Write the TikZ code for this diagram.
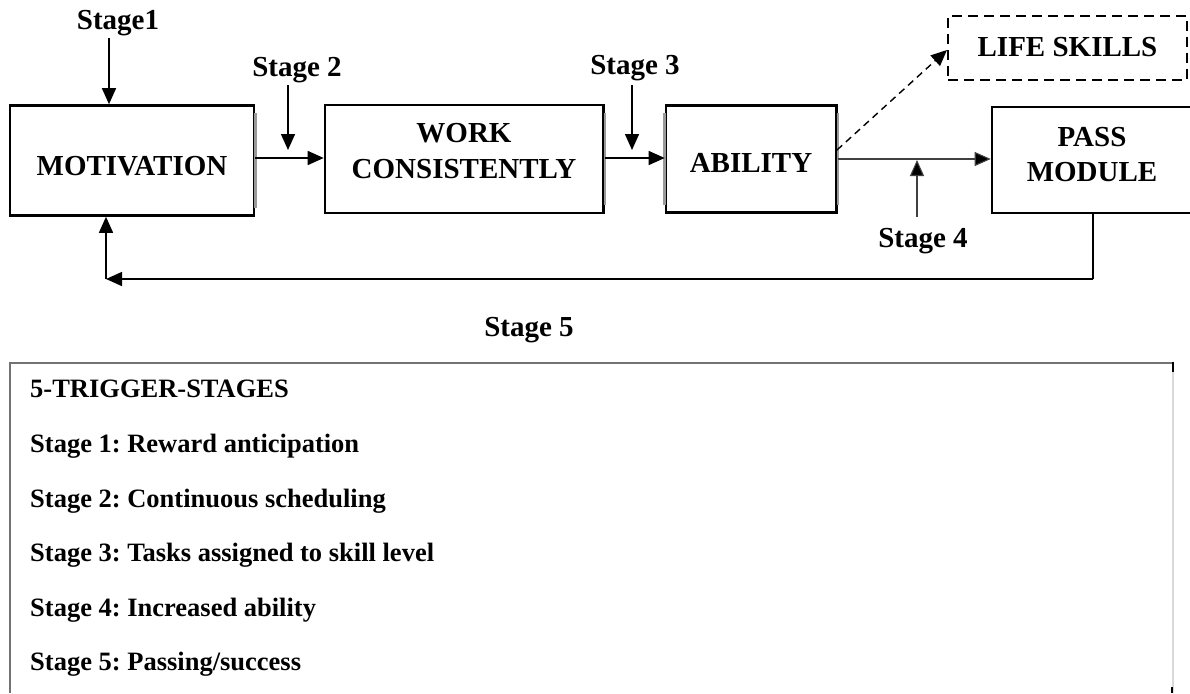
\documentclass[tikz,border=0pt]{standalone}
\usepackage{fontspec}
\setmainfont{Liberation Serif}
\usetikzlibrary{arrows.meta}
\frenchspacing
\begin{document}
\begin{tikzpicture}[x=1pt,y=-1pt,
  box/.style={draw,line width=2.6pt,inner sep=0pt},
  dbox/.style={box,dash pattern=on 10pt off 6pt},
  lbl/.style={font=\fontsize{29}{35}\selectfont\bfseries,inner sep=0pt,text height=19pt,text depth=0pt},
  itm/.style={font=\fontsize{26.5}{32}\selectfont\bfseries,inner sep=0pt,text height=17.5pt,text depth=0pt,anchor=west},
  arr/.style={line width=1.5pt,-{Triangle[length=16pt,width=14pt]}},
  thinarr/.style={line width=1.1pt,black!75,-{Triangle[length=16pt,width=14pt,fill=black]}},
  dasharr/.style={line width=1.4pt,dash pattern=on 7pt off 5pt,-{Triangle[length=16pt,width=14pt]}},
  plain/.style={line width=1.5pt},
  soft/.style={line width=2.6pt,black!40},
]
\useasboundingbox (0,0) rectangle (1190,693);
% boxes
\node[box,minimum width=244pt,minimum height=110pt] (mot) at (132,160.5) {};
\node[box,minimum width=278.6pt,minimum height=108pt] (work) at (464.3,159) {};
\node[box,minimum width=170.7pt,minimum height=107pt] (abil) at (751.3,159) {};
\node[box,minimum width=208pt,minimum height=106pt] (pass) at (1096,160) {};
\node[dbox,minimum width=239pt,minimum height=64pt] (life) at (1067.5,48) {};
% softer vertical edges
\draw[soft] ([yshift=-9pt]mot.north east) -- ([yshift=9pt]mot.south east);
\draw[soft] ([yshift=-9pt]work.north east) -- ([yshift=9pt]work.south east);
\draw[soft] ([yshift=-9pt]abil.north east) -- ([yshift=9pt]abil.south east);
\draw[soft] ([yshift=-9pt]abil.north west) -- ([yshift=9pt]abil.south west);
% box texts
\node[lbl] (motT) at (132,166) {MOTIVATION};
\node[lbl] (workT1) at (464,132.6) {WORK};
\node[lbl] (workT2) at (464,169) {CONSISTENTLY};
\node[lbl] (abilT) at (751,163) {ABILITY};
\node[lbl] (passT1) at (1092,137) {PASS};
\node[lbl] (passT2) at (1092,172) {MODULE};
\node[lbl] (lifeT) at (1067.5,46.7) {LIFE SKILLS};
% stage labels
\node[lbl] (s1) at (118,20) {Stage1};
\node[lbl] (s2) at (297,67) {Stage 2};
\node[lbl] (s3) at (635,65) {Stage 3};
\node[lbl] (s4) at (923,238) {Stage 4};
\node[lbl] (s5) at (529,327) {Stage 5};
% helper coordinates
\coordinate (a1) at (109,38);
\coordinate (a2t) at (288,85);
\coordinate (a2b) at (288,150);
\coordinate (a3t) at (632,85);
\coordinate (a3b) at (632,150);
\coordinate (a4b) at (917,216.7);
\coordinate (a4t) at (917,160);
\coordinate (ds) at (837,150);
\coordinate (de) at (947,50);
\coordinate (fb1) at (1093,279);
\coordinate (fb2) at (106,279);
% connectors
\draw[arr] (a1) -- (a1 |- mot.north);
\draw[arr] (a2t) -- (a2b);
\draw[arr] (a3t) -- (a3b);
\draw[arr] (mot.east |- 0,158) -- (work.west |- 0,158);
\draw[arr] (work.east |- 0,158) -- (abil.west |- 0,158);
\draw[thinarr] (abil.east |- 0,159) -- (pass.west |- 0,159);
\draw[thinarr] (a4b) -- (a4t);
\draw[dasharr] (ds) -- (de);
\draw[plain] (fb1 |- pass.south) -- (fb1);
\draw[arr] (fb1) -- (fb2);
\draw[arr] (fb2) -- (fb2 |- mot.south);
% legend box
\draw[line width=1.2pt,black!55] (10,693) -- (10,363) -- (1173,363);
\draw[line width=1.2pt,black!15] (1173,363) -- (1173,693);
\draw[line width=1.5pt] (1173,362.4) -- (1173,372);
\draw[line width=1.5pt] (1172,687) -- (1172,693);
\node[itm] (t0) at (30,389) {5-TRIGGER-STAGES};
\node[itm] (t1) at (30,444) {Stage 1: Reward anticipation};
\node[itm] (t2) at (30,498.5) {Stage 2: Continuous scheduling};
\node[itm] (t3) at (30,552.5) {Stage 3: Tasks assigned to skill level};
\node[itm] (t4) at (30,607.5) {Stage 4: Increased ability};
\node[itm] (t5) at (30,662) {Stage 5: Passing/success};
\end{tikzpicture}
\end{document}
